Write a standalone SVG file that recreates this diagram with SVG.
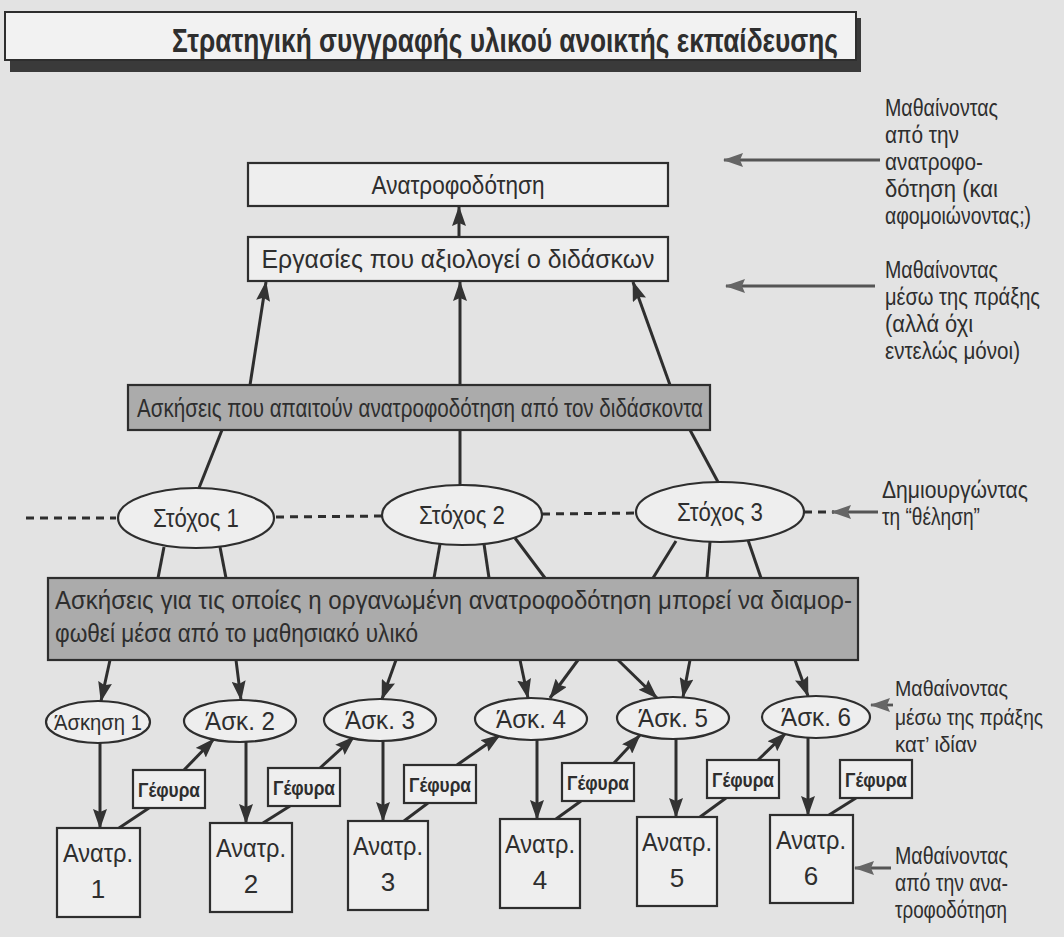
<svg xmlns="http://www.w3.org/2000/svg" width="1064" height="937" viewBox="0 0 1064 937">
<defs>
<marker id="ah" viewBox="0 0 20 14" refX="19" refY="7" markerWidth="20" markerHeight="14" orient="auto" markerUnits="userSpaceOnUse"><path d="M0,0 L20,7 L0,14 L3,7 z" fill="#333"/></marker>
<marker id="ahg" viewBox="0 0 20 14" refX="19" refY="7" markerWidth="20" markerHeight="14" orient="auto" markerUnits="userSpaceOnUse"><path d="M0,0 L20,7 L0,14 L3,7 z" fill="#666"/></marker>
<style>
text{font-family:"Liberation Sans Narrow","Liberation Sans",Arial,sans-serif;fill:#2e2e2e}
.t{font-size:26px;text-anchor:middle}
.l{font-size:23px}
.b{font-size:21px;font-weight:bold;text-anchor:middle}
.box{fill:#eeeeee;stroke:#2e2e2e;stroke-width:2.2}
.gray{fill:#ababab;stroke:#2e2e2e;stroke-width:2.2}
.ell{fill:#eeeeee;stroke:#2e2e2e;stroke-width:2.2}
.c{stroke:#2e2e2e;stroke-width:3;fill:none}
.a{stroke:#2e2e2e;stroke-width:3;fill:none;marker-end:url(#ah)}
.ag{stroke:#555;stroke-width:2.8;fill:none;marker-end:url(#ahg)}
.d{stroke:#2e2e2e;stroke-width:3;fill:none;stroke-dasharray:8 6}
</style>
</defs>
<rect width="1064" height="937" fill="#e3e3e3"/>

<g id="title">
<rect x="10" y="18" width="851" height="54" fill="#3a3a3a"/>
<rect x="5" y="12" width="851" height="48" fill="#f2f2f2" stroke="#2e2e2e" stroke-width="2"/>
<text x="172" y="52" style="font-size:33px;font-weight:bold" textLength="666" lengthAdjust="spacingAndGlyphs">Στρατηγική συγγραφής υλικού ανοικτής εκπαίδευσης</text>
</g>

<g id="connectors">
<line class="a" x1="459" y1="237" x2="459" y2="207"/>
<line class="ag" x1="880" y1="160" x2="724" y2="160"/>
<line class="ag" x1="875" y1="286" x2="726" y2="286"/>
<line class="a" x1="250" y1="385" x2="266" y2="282"/>
<line class="a" x1="460" y1="385" x2="460" y2="282"/>
<line class="a" x1="670" y1="385" x2="633" y2="282"/>
<line class="c" x1="222" y1="430" x2="199" y2="488"/>
<line class="c" x1="460" y1="430" x2="460" y2="485"/>
<line class="c" x1="690" y1="430" x2="718" y2="482"/>
<line class="d" x1="26" y1="518" x2="116" y2="518"/>
<line class="d" x1="276" y1="517" x2="382" y2="516"/>
<line class="d" x1="542" y1="514" x2="640" y2="513"/>
<line class="d" x1="804" y1="512" x2="834" y2="512"/>
<line class="ag" x1="878" y1="512" x2="832" y2="512"/>
<line class="c" x1="164" y1="547" x2="158" y2="578"/>
<line class="c" x1="220" y1="547" x2="226" y2="578"/>
<line class="c" x1="440" y1="544" x2="434" y2="578"/>
<line class="c" x1="484" y1="544" x2="489" y2="578"/>
<line class="c" x1="515" y1="538" x2="545" y2="578"/>
<line class="c" x1="676" y1="541" x2="653" y2="578"/>
<line class="c" x1="710" y1="542" x2="707" y2="578"/>
<line class="c" x1="748" y1="540" x2="761" y2="578"/>
<line class="a" x1="110" y1="660" x2="101" y2="701"/>
<line class="a" x1="236" y1="660" x2="241" y2="700"/>
<line class="a" x1="396" y1="660" x2="382" y2="699"/>
<line class="a" x1="520" y1="660" x2="528" y2="698"/>
<line class="a" x1="578" y1="660" x2="550" y2="698"/>
<line class="a" x1="618" y1="660" x2="657" y2="698"/>
<line class="a" x1="690" y1="660" x2="683" y2="697"/>
<line class="a" x1="795" y1="660" x2="808" y2="696"/>
<line class="ag" x1="893" y1="705" x2="871" y2="705"/>
<line class="a" x1="100" y1="743" x2="100" y2="828"/>
<line class="a" x1="246" y1="742" x2="246" y2="823"/>
<line class="a" x1="383" y1="741" x2="383" y2="821"/>
<line class="a" x1="537" y1="740" x2="537" y2="819"/>
<line class="a" x1="676" y1="739" x2="676" y2="817"/>
<line class="a" x1="808" y1="738" x2="808" y2="815"/>
<line class="a" x1="184" y1="770" x2="214" y2="739"/>
<line class="a" x1="320" y1="768" x2="354" y2="737"/>
<line class="a" x1="457" y1="765" x2="500" y2="735"/>
<line class="a" x1="614" y1="763" x2="640" y2="735"/>
<line class="a" x1="758" y1="760" x2="786" y2="733"/>
<line class="c" x1="149" y1="808" x2="119" y2="828"/>
<line class="c" x1="290" y1="806" x2="263" y2="823"/>
<line class="c" x1="428" y1="803" x2="404" y2="821"/>
<line class="c" x1="581" y1="801" x2="556" y2="819"/>
<line class="c" x1="726" y1="798" x2="700" y2="817"/>
<line class="c" x1="856" y1="798" x2="829" y2="815"/>
<line class="ag" x1="891" y1="868" x2="855" y2="868"/>
</g>

<g id="n-anatrofodotisi">
<rect class="box" x="248" y="163" width="420" height="43"/>
<text class="t" x="458" y="194" textLength="173" lengthAdjust="spacingAndGlyphs">Ανατροφοδότηση</text>
</g>
<g id="n-ergasies">
<rect class="box" x="248" y="237" width="420" height="44"/>
<text class="t" x="458" y="268" textLength="393" lengthAdjust="spacingAndGlyphs">Εργασίες που αξιολογεί ο διδάσκων</text>
</g>
<g id="n-askiseis-didaskonta">
<rect class="gray" x="128" y="385" width="582" height="45"/>
<text class="t" x="420" y="417" textLength="566" lengthAdjust="spacingAndGlyphs">Ασκήσεις που απαιτούν ανατροφοδότηση από τον διδάσκοντα</text>
</g>
<g id="n-stoxos1">
<ellipse class="ell" cx="196" cy="518" rx="78" ry="30"/>
<text class="t" x="196" y="527" textLength="86" lengthAdjust="spacingAndGlyphs">Στόχος 1</text>
</g>
<g id="n-stoxos2">
<ellipse class="ell" cx="462" cy="515" rx="80" ry="30"/>
<text class="t" x="462" y="524" textLength="86" lengthAdjust="spacingAndGlyphs">Στόχος 2</text>
</g>
<g id="n-stoxos3">
<ellipse class="ell" cx="720" cy="512" rx="84" ry="30"/>
<text class="t" x="720" y="521" textLength="86" lengthAdjust="spacingAndGlyphs">Στόχος 3</text>
</g>
<g id="n-askiseis-yliko">
<rect class="gray" x="48" y="578" width="810" height="82"/>
<text x="55" y="609" style="font-size:26px" textLength="797" lengthAdjust="spacingAndGlyphs">Ασκήσεις για τις οποίες η οργανωμένη ανατροφοδότηση μπορεί να διαμορ-</text>
<text x="55" y="642" style="font-size:26px" textLength="363" lengthAdjust="spacingAndGlyphs">φωθεί μέσα από το μαθησιακό υλικό</text>
</g>

<g id="n-ask1"><ellipse class="ell" cx="98" cy="722" rx="52" ry="21"/><text class="t" x="98" y="730" style="font-size:22px" textLength="88" lengthAdjust="spacingAndGlyphs">Άσκηση 1</text></g>
<g id="n-ask2"><ellipse class="ell" cx="240" cy="721" rx="56" ry="21"/><text class="t" x="240" y="730" textLength="70" lengthAdjust="spacingAndGlyphs">Άσκ. 2</text></g>
<g id="n-ask3"><ellipse class="ell" cx="380" cy="720" rx="56" ry="21"/><text class="t" x="380" y="729" textLength="70" lengthAdjust="spacingAndGlyphs">Άσκ. 3</text></g>
<g id="n-ask4"><ellipse class="ell" cx="531" cy="719" rx="56" ry="21"/><text class="t" x="531" y="728" textLength="70" lengthAdjust="spacingAndGlyphs">Άσκ. 4</text></g>
<g id="n-ask5"><ellipse class="ell" cx="673" cy="718" rx="56" ry="21"/><text class="t" x="673" y="727" textLength="70" lengthAdjust="spacingAndGlyphs">Άσκ. 5</text></g>
<g id="n-ask6"><ellipse class="ell" cx="816" cy="717" rx="54" ry="21"/><text class="t" x="816" y="726" textLength="70" lengthAdjust="spacingAndGlyphs">Άσκ. 6</text></g>

<g id="n-gef1"><rect class="box" x="133" y="770" width="72" height="38"/><text class="b" x="169" y="797" textLength="62" lengthAdjust="spacingAndGlyphs">Γέφυρα</text></g>
<g id="n-gef2"><rect class="box" x="268" y="768" width="72" height="38"/><text class="b" x="304" y="795" textLength="62" lengthAdjust="spacingAndGlyphs">Γέφυρα</text></g>
<g id="n-gef3"><rect class="box" x="404" y="765" width="72" height="38"/><text class="b" x="440" y="792" textLength="62" lengthAdjust="spacingAndGlyphs">Γέφυρα</text></g>
<g id="n-gef4"><rect class="box" x="562" y="763" width="72" height="38"/><text class="b" x="598" y="790" textLength="62" lengthAdjust="spacingAndGlyphs">Γέφυρα</text></g>
<g id="n-gef5"><rect class="box" x="707" y="760" width="72" height="38"/><text class="b" x="743" y="787" textLength="62" lengthAdjust="spacingAndGlyphs">Γέφυρα</text></g>
<g id="n-gef6"><rect class="box" x="840" y="760" width="72" height="38"/><text class="b" x="876" y="787" textLength="62" lengthAdjust="spacingAndGlyphs">Γέφυρα</text></g>

<g id="n-anatr1"><rect class="box" x="57" y="828" width="83" height="89"/><text class="t" x="98" y="862" textLength="70" lengthAdjust="spacingAndGlyphs">Ανατρ.</text><text class="t" x="98" y="898">1</text></g>
<g id="n-anatr2"><rect class="box" x="210" y="823" width="82" height="89"/><text class="t" x="251" y="857" textLength="70" lengthAdjust="spacingAndGlyphs">Ανατρ.</text><text class="t" x="251" y="893">2</text></g>
<g id="n-anatr3"><rect class="box" x="348" y="821" width="80" height="89"/><text class="t" x="388" y="855" textLength="70" lengthAdjust="spacingAndGlyphs">Ανατρ.</text><text class="t" x="388" y="891">3</text></g>
<g id="n-anatr4"><rect class="box" x="500" y="819" width="80" height="89"/><text class="t" x="540" y="853" textLength="70" lengthAdjust="spacingAndGlyphs">Ανατρ.</text><text class="t" x="540" y="889">4</text></g>
<g id="n-anatr5"><rect class="box" x="637" y="817" width="80" height="89"/><text class="t" x="677" y="851" textLength="70" lengthAdjust="spacingAndGlyphs">Ανατρ.</text><text class="t" x="677" y="887">5</text></g>
<g id="n-anatr6"><rect class="box" x="770" y="815" width="83" height="88"/><text class="t" x="811" y="849" textLength="70" lengthAdjust="spacingAndGlyphs">Ανατρ.</text><text class="t" x="811" y="885">6</text></g>

<g id="label-1">
<text class="l" x="885" y="116" textLength="113" lengthAdjust="spacingAndGlyphs">Μαθαίνοντας</text>
<text class="l" x="885" y="143" textLength="74" lengthAdjust="spacingAndGlyphs">από την</text>
<text class="l" x="885" y="170" textLength="98" lengthAdjust="spacingAndGlyphs">ανατροφο-</text>
<text class="l" x="885" y="197" textLength="113" lengthAdjust="spacingAndGlyphs">δότηση (και</text>
<text class="l" x="885" y="224" textLength="146" lengthAdjust="spacingAndGlyphs">αφομοιώνοντας;)</text>
</g>
<g id="label-2">
<text class="l" x="885" y="278" textLength="113" lengthAdjust="spacingAndGlyphs">Μαθαίνοντας</text>
<text class="l" x="885" y="305" textLength="155" lengthAdjust="spacingAndGlyphs">μέσω της πράξης</text>
<text class="l" x="885" y="332" textLength="88" lengthAdjust="spacingAndGlyphs">(αλλά όχι</text>
<text class="l" x="885" y="359" textLength="135" lengthAdjust="spacingAndGlyphs">εντελώς μόνοι)</text>
</g>
<g id="label-3">
<text class="l" x="882" y="498" textLength="146" lengthAdjust="spacingAndGlyphs">Δημιουργώντας</text>
<text class="l" x="882" y="525" textLength="98" lengthAdjust="spacingAndGlyphs">τη “θέληση”</text>
</g>
<g id="label-4">
<text class="l" x="895" y="696" style="font-size:22px" textLength="113" lengthAdjust="spacingAndGlyphs">Μαθαίνοντας</text>
<text class="l" x="895" y="725" style="font-size:22px" textLength="148" lengthAdjust="spacingAndGlyphs">μέσω της πράξης</text>
<text class="l" x="895" y="752" style="font-size:22px" textLength="82" lengthAdjust="spacingAndGlyphs">κατ’ ιδίαν</text>
</g>
<g id="label-5">
<text class="l" x="895" y="864" textLength="113" lengthAdjust="spacingAndGlyphs">Μαθαίνοντας</text>
<text class="l" x="895" y="891" textLength="113" lengthAdjust="spacingAndGlyphs">από την ανα-</text>
<text class="l" x="895" y="918" textLength="112" lengthAdjust="spacingAndGlyphs">τροφοδότηση</text>
</g>
</svg>
